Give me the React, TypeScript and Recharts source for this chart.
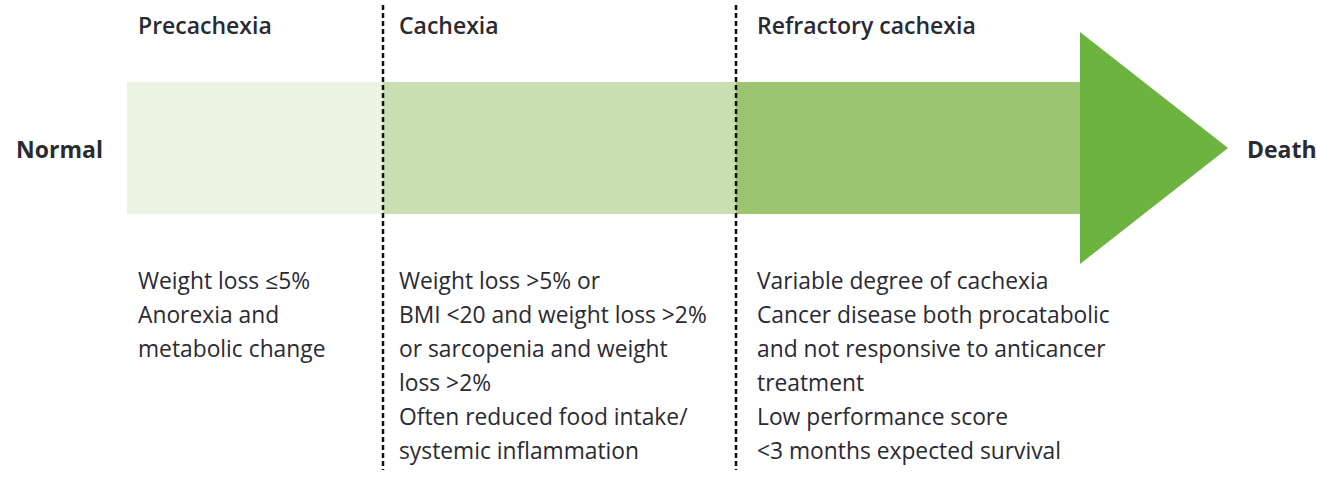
import React from 'react';
import {
  ComposedChart,
  XAxis,
  YAxis,
  Area,
  Scatter,
  ReferenceArea,
  ReferenceLine,
} from 'recharts';

// ---------- data ----------
const stageNames = ['Precachexia', 'Cachexia', 'Refractory cachexia'];
const stageStart = [0, 256, 609];
const stageEnd = [256, 609, 953];
const arrowTip = 1101;
const dividers = [256, 609];
const stageCriteria = [
  ['Weight loss \u22645%', 'Anorexia and', 'metabolic change'],
  [
    'Weight loss >5% or',
    'BMI <20 and weight loss >2%',
    'or sarcopenia and weight',
    'loss >2%',
    'Often reduced food intake/',
    'systemic inflammation',
  ],
  [
    'Variable degree of cachexia',
    'Cancer disease both procatabolic',
    'and not responsive to anticancer',
    'treatment',
    'Low performance score',
    '<3 months expected survival',
  ],
];
const endpointLabels = ['Normal', 'Death'];

// band / arrow half-heights (value units)
const bandHalf = 66;
const arrowHalf = 116;

// ---------- layout / style ----------
const W = 1317;
const H = 477;
const bandFills = ['#ebf3e3', '#c9dfb2', '#9bc571'];
const arrowFill = '#6cb33f';
const textColor = '#2a2a33';
const FONT = '"Open Sans", "DejaVu Sans", sans-serif';
const textOffset = [11, 16, 21];
const headerY = 114;
const bodyY = -141;
const lineGap = 34;
const endpointGap = 24;

const arrowData = [
  { x: stageEnd[2], lo: -arrowHalf, hi: arrowHalf },
  { x: arrowTip, lo: 0, hi: 0 },
];

type Block = { x: number; y: number; lines: string[]; kind: string };

const blocks: Block[] = [
  ...stageNames.map((n, i) => ({
    x: stageStart[i] + textOffset[i],
    y: headerY,
    lines: [n],
    kind: 'header',
  })),
  ...stageCriteria.map((c, i) => ({
    x: stageStart[i] + textOffset[i],
    y: bodyY,
    lines: c,
    kind: 'body',
  })),
  { x: stageStart[0] - endpointGap, y: -1, lines: [endpointLabels[0]], kind: 'left' },
  { x: arrowTip + 19, y: -1, lines: [endpointLabels[1]], kind: 'right' },
];

const TextBlock = (props: any) => {
  const { cx, cy, payload } = props;
  if (cx == null || cy == null || !payload) return null;
  const kind = payload.kind;
  const isEnd = kind === 'left' || kind === 'right';
  return (
    <text
      x={cx}
      y={cy}
      fill={textColor}
      fontFamily={FONT}
      fontSize={kind === 'body' ? 22.8 : 23}
      fontWeight={kind === 'body' ? 400 : isEnd ? 700 : 600}
      textAnchor={kind === 'left' ? 'end' : 'start'}
      dominantBaseline={isEnd ? 'central' : 'alphabetic'}
    >
      {payload.lines.map((l: string, i: number) => (
        <tspan key={i} x={cx} dy={i === 0 ? 0 : lineGap}>
          {l}
        </tspan>
      ))}
    </text>
  );
};

export default function App() {
  return (
    <div style={{ position: 'absolute', left: 0, top: 0, width: W, height: H, background: '#fff' }}>
      <ComposedChart
        width={W}
        height={H}
        margin={{ top: 0, right: 0, bottom: 0, left: 0 }}
      >
        <XAxis type="number" dataKey="x" domain={[-127, 1190]} hide allowDataOverflow />
        <YAxis type="number" domain={[-329, 148]} hide allowDataOverflow />
        {stageNames.map((n, i) => (
          <ReferenceArea
            key={n}
            x1={stageStart[i]}
            x2={stageEnd[i]}
            y1={-bandHalf}
            y2={bandHalf}
            fill={bandFills[i]}
            fillOpacity={1}
            stroke="none"
            ifOverflow="visible"
          />
        ))}
        <Area
          data={arrowData}
          dataKey={(d: any) => [d.lo, d.hi]}
          type="linear"
          fill={arrowFill}
          fillOpacity={1}
          stroke="none"
          isAnimationActive={false}
          activeDot={false}
          dot={false}
        />
        {dividers.map((d) => (
          <ReferenceLine
            key={d}
            segment={[
              { x: d, y: 143 },
              { x: d, y: -322 },
            ]}
            stroke="#111"
            strokeWidth={2.5}
            strokeDasharray="5 3"
            ifOverflow="visible"
          />
        ))}
        <Scatter
          data={blocks}
          dataKey="y"
          shape={(p: any) => <TextBlock {...p} />}
          isAnimationActive={false}
        />
      </ComposedChart>
    </div>
  );
}
